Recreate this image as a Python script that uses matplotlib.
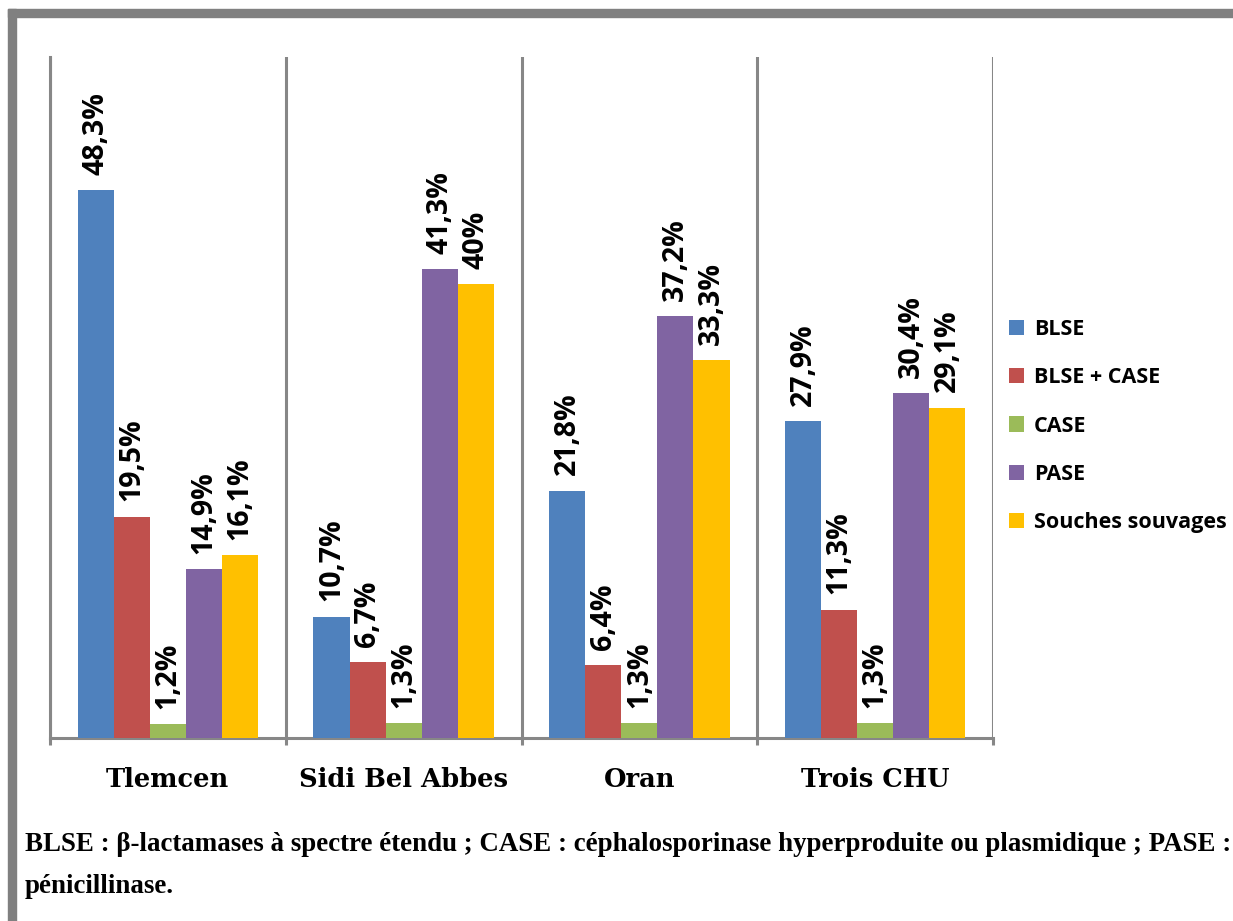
import matplotlib
matplotlib.use('Agg')
import matplotlib.pyplot as plt
from matplotlib.patches import Rectangle
import numpy as np

sites = ['Tlemcen', 'Sidi Bel Abbes', 'Oran', 'Trois CHU']
series = ['BLSE', 'BLSE + CASE', 'CASE', 'PASE', 'Souches souvages']
blse = [48.3, 10.7, 21.8, 27.9]
blse_case = [19.5, 6.7, 6.4, 11.3]
case = [1.2, 1.3, 1.3, 1.3]
pase = [14.9, 41.3, 37.2, 30.4]
sauvages = [16.1, 40, 33.3, 29.1]
colors = ['#4F81BD', '#C0504D', '#9BBB59', '#8064A2', '#FFC000']
caption1 = ('BLSE : \u03b2-lactamases \u00e0 spectre \u00e9tendu ; CASE : c\u00e9phalosporinase '
            'hyperproduite ou plasmidique ; PASE :')
caption2 = 'p\u00e9nicillinase.'

def pct(v):
    s = ('%.1f' % v).replace('.', ',')
    if s.endswith(',0'):
        s = s[:-2]
    return s + '%'

fig = plt.figure(figsize=(12.33, 9.21), dpi=100)
ax = fig.add_axes([50/1233, 1-738/921, 943/1233, 681/921])

grey = '#878787'
width = 0.153
x = np.arange(len(sites)) + 0.5
handles = []
for j, vals in enumerate([blse, blse_case, case, pase, sauvages]):
    pos = x + (j - 2) * width
    b = ax.bar(pos, vals, width, color=colors[j], label=series[j], zorder=3)
    handles.append(b)
    for xi, v in zip(pos, vals):
        ax.annotate(pct(v), (xi, v), xytext=(0, 11), textcoords='offset points',
                    rotation=90, ha='center', va='bottom', fontsize=20.5,
                    fontweight='bold', family='Open Sans')

ax.set_xlim(0, 4)
ax.set_ylim(0, 60)
ax.set_yticks([])
ax.set_xticks([0, 1, 2, 3, 4])
ax.set_xticklabels([])
ax.set_xticks(x, minor=True)
ax.set_xticklabels(sites, minor=True, fontsize=18.5, fontweight='bold', family='DejaVu Serif')
ax.tick_params(axis='x', which='major', direction='out', length=5, width=2.2, color=grey)
ax.tick_params(axis='x', which='minor', length=0, pad=21)
ax.grid(axis='x', which='major', color=grey, lw=2.2, zorder=1)
for s in ['top', 'right']:
    ax.spines[s].set_visible(False)
ax.spines['bottom'].set_color(grey)
ax.spines['bottom'].set_linewidth(2.2)
ax.spines['left'].set_color(grey)
ax.spines['left'].set_linewidth(2.2)

fig.legend(handles=handles, loc='center left', bbox_to_anchor=(990/1233, 1-426/921),
           frameon=False, prop={'family': 'Open Sans', 'weight': 'bold', 'size': 15.5},
           handlelength=0.7, handleheight=0.7, handletextpad=0.45, labelspacing=1.27)

# grey frame along the top and left
fig.patches.append(Rectangle((8/1233, 0), 8/1233, 1 - 9/921, transform=fig.transFigure,
                             color='#808080', zorder=0))
fig.patches.append(Rectangle((8/1233, 1 - 17/921), 1, 8/921, transform=fig.transFigure,
                             color='#808080', zorder=0))

cap = dict(fontsize=19.4, fontweight='bold', family='Liberation Serif', va='baseline')
fig.text(25/1233, 1 - 851/921, caption1, **cap)
fig.text(25/1233, 1 - 893/921, caption2, **cap)

fig.savefig('out.png', dpi=100)
